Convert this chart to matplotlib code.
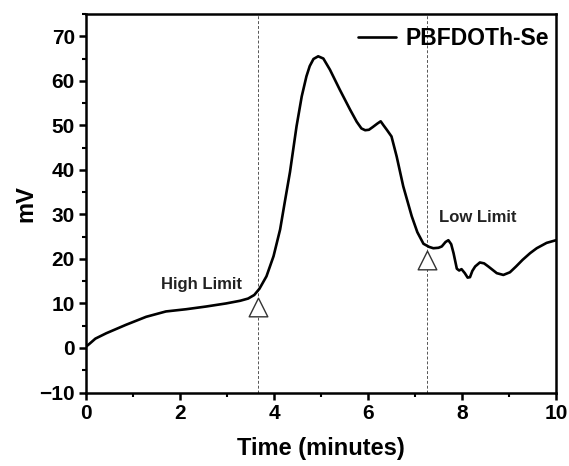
import matplotlib
matplotlib.use("Agg")
from matplotlib import pyplot as plt
from matplotlib.ticker import MultipleLocator

# trace
time_min = [0.0, 0.07, 0.2, 0.43, 0.85, 1.28, 1.7, 2.13, 2.55, 2.98, 3.28, 3.45,
            3.58, 3.69, 3.84, 3.99, 4.13, 4.23, 4.34, 4.48, 4.59, 4.69, 4.76, 4.84,
            4.94, 5.05, 5.19, 5.4, 5.62, 5.76, 5.86, 5.94, 6.02, 6.1, 6.2, 6.27,
            6.33, 6.4, 6.5, 6.61, 6.75, 6.93, 7.05, 7.18, 7.3, 7.39, 7.5, 7.57,
            7.65, 7.71, 7.77, 7.82, 7.89, 7.94, 7.99, 8.06, 8.12, 8.17, 8.22, 8.28,
            8.38, 8.47, 8.56, 8.74, 8.88, 9.02, 9.15, 9.29, 9.45, 9.59, 9.8, 10.0]
mv = [0.3, 0.9, 2.1, 3.3, 5.2, 7.0, 8.2, 8.7, 9.3, 10.0, 10.6, 11.1,
      11.9, 13.3, 16.1, 20.6, 26.6, 32.8, 39.5, 49.8, 56.5, 61.0, 63.3, 64.9,
      65.5, 65.0, 62.5, 58.0, 53.5, 50.8, 49.3, 48.9, 49.0, 49.6, 50.4, 50.9,
      50.0, 49.0, 47.5, 43.0, 36.3, 29.6, 26.0, 23.4, 22.7, 22.4, 22.5, 22.8,
      23.8, 24.2, 23.3, 21.3, 17.8, 17.4, 17.7, 16.8, 15.8, 15.9, 17.3, 18.3,
      19.2, 19.0, 18.3, 16.8, 16.4, 17.0, 18.3, 19.8, 21.3, 22.4, 23.6, 24.2]

limit_t = [3.67, 7.25]
limit_mv = [9.1, 19.8]
limit_labels = ["High Limit", "Low Limit"]
label_pos = [(2.45, 14.2), (8.34, 29.2)]

plt.rcParams["font.family"] = ["Liberation Sans", "DejaVu Sans"]
plt.rcParams["font.weight"] = "bold"

fig = plt.figure(figsize=(5.69, 4.66), dpi=100)
ax = fig.add_axes([86 / 569, 1 - 392.5 / 466, 470 / 569, 378.5 / 466])

ax.plot(time_min, mv, color="black", lw=1.9, label="PBFDOTh-Se",
        solid_joinstyle="round", solid_capstyle="round")
for t in limit_t:
    ax.axvline(t, color="#555555", lw=0.7, ls=(0, (3, 2)), zorder=0)
ax.scatter(limit_t, limit_mv, marker="^", s=180, facecolors="white",
           edgecolors="#333333", linewidths=1.0, zorder=3)
for txt, (x, y) in zip(limit_labels, label_pos):
    ax.text(x, y, txt, ha="center", va="center", fontsize=12, color="#222222")

ax.set_xlim(0, 10)
ax.set_ylim(-10, 75)
ax.xaxis.set_major_locator(MultipleLocator(2))
ax.xaxis.set_minor_locator(MultipleLocator(1))
ax.yaxis.set_major_locator(MultipleLocator(10))
ax.yaxis.set_minor_locator(MultipleLocator(5))
ax.tick_params(which="major", direction="out", length=5, width=1.8, labelsize=15, pad=3)
ax.tick_params(which="minor", direction="out", length=3, width=1.5)
for s in ax.spines.values():
    s.set_linewidth(1.8)

ax.set_xlabel("Time (minutes)", fontsize=17, fontweight="bold", labelpad=10)
ax.set_ylabel("mV", fontsize=17, fontweight="bold", labelpad=1)

ax.legend(loc="upper right", bbox_to_anchor=(1.0, 0.984), frameon=False,
          fontsize=16.5, handlelength=1.7, handletextpad=0.4, borderpad=0.2,
          borderaxespad=0.1)

fig.savefig("out.png", dpi=100)
